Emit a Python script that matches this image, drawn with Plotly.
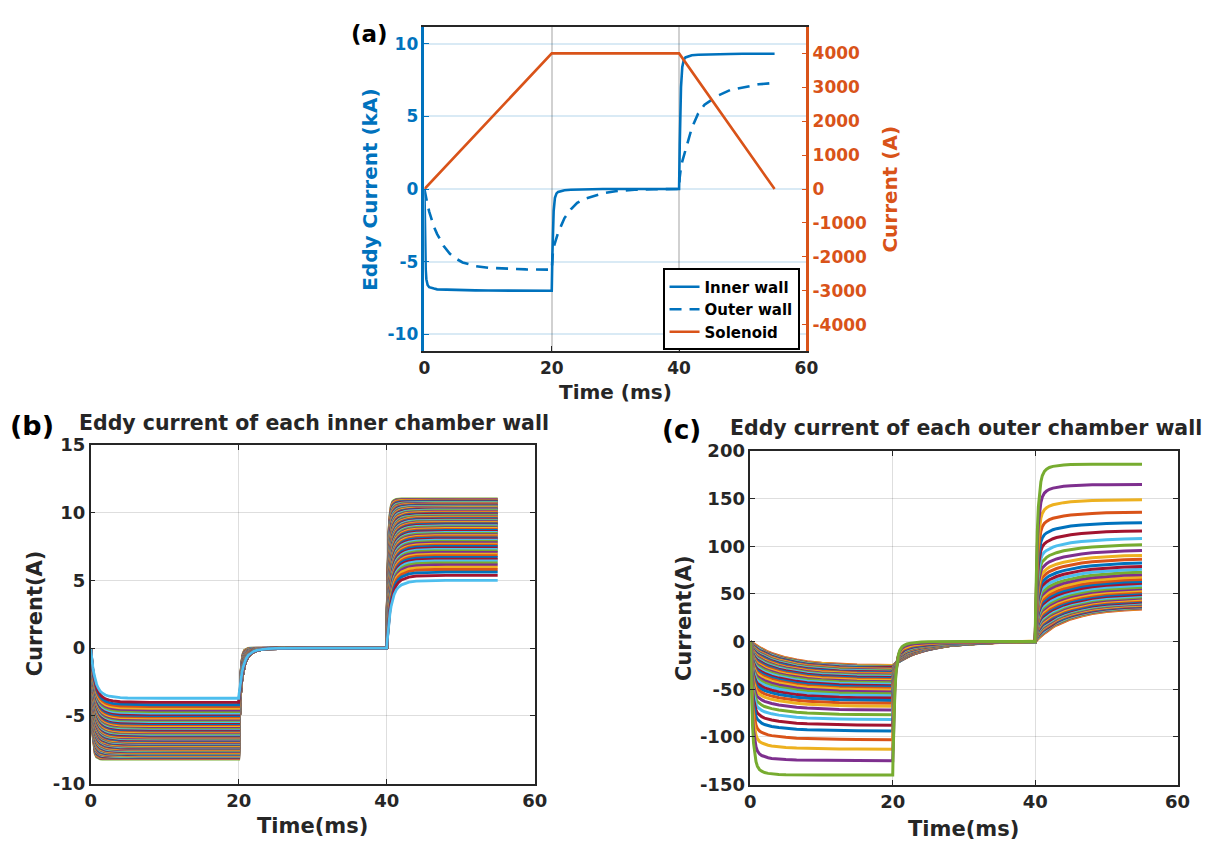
import plotly.graph_objects as go

W, H = 1228, 854
FONT = "DejaVu Sans"
TXT = "#262626"
BLUE = "#0072BD"
ORANGE = "#D95319"
MATLAB = ["#0072BD", "#D95319", "#EDB120", "#7E2F8E", "#77AC30", "#4DBEEE", "#A2142F"]

# ---------------- Panel (a): total eddy currents and solenoid current ----------------
T_A = [0, 0.1, 0.2, 0.3, 0.5, 0.75, 1, 1.5, 2, 3, 4, 5, 6, 8, 10, 13, 16, 20,
       20.1, 20.2, 20.3, 20.5, 20.75, 21, 21.5, 22, 23, 24, 25, 26, 28, 30, 33, 36, 40,
       40.1, 40.2, 40.3, 40.5, 40.75, 41, 41.5, 42, 43, 44, 45, 46, 48, 50, 52.5, 55]
INNER_WALL_KA = [0, -3.5, -5.5, -6.2, -6.6, -6.75, -6.8, -6.85, -6.9, -6.92, -6.94, -6.95, -6.96, -6.97, -6.98, -6.99, -7.0, -7.0,
                 -4.5, -2.5, -1.5, -0.6, -0.3, -0.2, -0.12, -0.08, -0.05, -0.03, -0.02, -0.01, 0, 0, 0, 0, 0,
                 3.0, 5.5, 7.0, 8.4, 8.9, 9.05, 9.15, 9.2, 9.23, 9.25, 9.27, 9.28, 9.29, 9.3, 9.3, 9.3]
OUTER_WALL_KA = [0, -0.25, -0.5, -0.7, -1.1, -1.55, -1.95, -2.6, -3.1, -3.9, -4.45, -4.8, -5.05, -5.3, -5.42, -5.5, -5.53, -5.55,
                 -4.6, -4.2, -4.0, -3.7, -3.35, -3.0, -2.5, -2.0, -1.4, -0.95, -0.7, -0.55, -0.3, -0.15, -0.05, -0.02, 0,
                 0.8, 1.2, 1.5, 1.9, 2.3, 2.7, 3.4, 4.2, 5.2, 5.8, 6.1, 6.4, 6.8, 7.0, 7.2, 7.3]
T_SOL = [0, 20, 40, 55]
SOLENOID_A = [0, 4000, 4000, 0]

# tick labels
TICKS_A_X = [0, 20, 40, 60]
TICKS_A_Y = [-10, -5, 0, 5, 10]
TICKS_A_Y2 = [-4000, -3000, -2000, -1000, 0, 1000, 2000, 3000, 4000]
TICKS_B_Y = [-10, -5, 0, 5, 10, 15]
TICKS_C_Y = [-150, -100, -50, 0, 50, 100, 150, 200]

# ---------------- Panels (b), (c): each wall element ----------------
# time offsets after each switching instant (ms) and read step-response fractions
DT = [0, 0.05, 0.1, 0.2, 0.3, 0.45, 0.6, 0.8, 1.0, 1.3, 1.6, 2.0, 2.5, 3.0, 4.0, 5.0, 6.5, 8.0, 10.0, 12.5, 15.0, 20.0]
FAST_B = [0, 0.22, 0.39, 0.63, 0.78, 0.89, 0.95, 0.98, 0.99, 0.997, 1, 1, 1, 1, 1, 1, 1, 1, 1, 1, 1, 1]
SLOW_B = [0, 0.08, 0.15, 0.28, 0.39, 0.52, 0.62, 0.72, 0.79, 0.86, 0.9, 0.935, 0.96, 0.975, 0.99, 0.995, 1, 1, 1, 1, 1, 1]
FAST_C = [0, 0.15, 0.28, 0.48, 0.62, 0.76, 0.84, 0.9, 0.935, 0.96, 0.972, 0.982, 0.988, 0.992, 0.996, 0.998, 1, 1, 1, 1, 1, 1]
SLOW_C = [0, 0.011, 0.022, 0.043, 0.064, 0.095, 0.125, 0.16, 0.2, 0.25, 0.29, 0.36, 0.43, 0.49, 0.59, 0.67, 0.76, 0.83, 0.89, 0.94, 0.965, 0.99]

# inner walls (A), smallest first: |plateau| during ramp-up, plateau after ramp-down
INNER_SEG1 = [3.70, 4.00, 4.18, 4.32, 4.45, 4.57, 4.68, 4.79, 4.89, 4.99, 5.08, 5.17, 5.26, 5.34, 5.42, 5.50,
              5.58, 5.65, 5.72, 5.79, 5.86, 5.93, 6.00, 6.06, 6.12, 6.18, 6.24, 6.30, 6.36, 6.42, 6.47, 6.52,
              6.57, 6.62, 6.67, 6.72, 6.77, 6.82, 6.87, 6.91, 6.95, 6.99, 7.03, 7.07, 7.11, 7.15, 7.19, 7.23,
              7.27, 7.31, 7.35, 7.39, 7.43, 7.47, 7.51, 7.55, 7.59, 7.62, 7.65, 7.68, 7.71, 7.74, 7.77, 7.80,
              7.83, 7.86, 7.89, 7.92, 7.95, 7.98, 8.01, 8.04, 8.07, 8.10, 8.13, 8.16, 8.20]
INNER_SEG3 = [5.00, 5.38, 5.62, 5.81, 5.99, 6.15, 6.29, 6.44, 6.58, 6.71, 6.83, 6.95, 7.07, 7.18, 7.29, 7.40,
              7.51, 7.60, 7.69, 7.79, 7.88, 7.98, 8.07, 8.15, 8.23, 8.31, 8.39, 8.47, 8.55, 8.63, 8.70, 8.77,
              8.84, 8.90, 8.97, 9.04, 9.11, 9.17, 9.24, 9.29, 9.35, 9.40, 9.46, 9.51, 9.56, 9.62, 9.67, 9.72,
              9.78, 9.83, 9.89, 9.94, 9.99, 10.05, 10.10, 10.15, 10.21, 10.25, 10.29, 10.33, 10.37, 10.41, 10.45, 10.49,
              10.53, 10.57, 10.61, 10.65, 10.69, 10.73, 10.77, 10.81, 10.85, 10.89, 10.93, 10.98, 11.03]

# outer walls (A), largest first
OUTER_SEG1 = [140, 125, 113, 103, 94, 88, 82, 77, 72, 68, 65, 62, 59.5, 57, 55, 53, 51, 49.5, 48, 46.5,
              45, 43.5, 42.3, 41.1, 40, 39, 38, 37, 36.2, 35.4, 34.6, 33.8, 33, 32.3, 31.6, 30.9, 30.3,
              29.7, 29.1, 28.5, 28, 27.5, 27, 26.5, 26, 25.5]
OUTER_SEG3 = [186, 165, 149, 136, 125, 116.5, 108.5, 102, 96, 91, 87, 83, 79.5, 76.5, 73.5, 71, 68.5, 66, 64, 62,
              60, 58, 56.3, 54.7, 53.2, 51.8, 50.4, 49, 47.8, 46.6, 45.5, 44.5, 43.5, 42.6, 41.8, 41, 40.3,
              39.6, 39, 38.4, 37.8, 37.3, 36.8, 36.3, 35.8, 35.3]


def wall_curve(p1, p3, fast, slow, w):
    prof = [w * f + (1 - w) * s for f, s in zip(fast, slow)]
    t, v = [], []
    for d, p in zip(DT, prof):
        t.append(d)
        v.append(-p1 * p)
    end = v[-1]
    for d, p in zip(DT[1:], prof[1:]):
        t.append(20 + d)
        v.append(end * (1 - p))
    for d, p in zip(DT[1:], prof[1:]):
        if d <= 15:
            t.append(40 + d)
            v.append(p3 * p)
    return t, v


fig = go.Figure()

# panel (a)
fig.add_trace(go.Scatter(x=T_A, y=INNER_WALL_KA, mode="lines", name="Inner wall",
                         line=dict(color=BLUE, width=2.6), xaxis="x", yaxis="y"))
fig.add_trace(go.Scatter(x=T_A, y=OUTER_WALL_KA, mode="lines", name="Outer wall",
                         line=dict(color=BLUE, width=2.6, dash="12px,8px"), xaxis="x", yaxis="y"))
fig.add_trace(go.Scatter(x=T_SOL, y=SOLENOID_A, mode="lines", name="Solenoid",
                         line=dict(color=ORANGE, width=2.6), xaxis="x", yaxis="y2"))

# panel (b): largest first, smallest (light blue) drawn last
NB = len(INNER_SEG1)
for r in reversed(range(NB)):
    w = r / (NB - 1)
    t, v = wall_curve(INNER_SEG1[r], INNER_SEG3[r], FAST_B, SLOW_B, w)
    fig.add_trace(go.Scatter(x=t, y=v, mode="lines", showlegend=False, hoverinfo="skip",
                             line=dict(color=MATLAB[(5 + r) % 7], width=2.8), xaxis="x3", yaxis="y3"))

# panel (c): smallest first, largest (green) drawn last
NC = len(OUTER_SEG1)
for r in reversed(range(NC)):
    w = 1 - r / (NC - 1)
    t, v = wall_curve(OUTER_SEG1[r], OUTER_SEG3[r], FAST_C, SLOW_C, w)
    fig.add_trace(go.Scatter(x=t, y=v, mode="lines", showlegend=False, hoverinfo="skip",
                             line=dict(color=MATLAB[(4 - r) % 7], width=3), xaxis="x4", yaxis="y4"))


def px(x):
    return x / W


def py(y):
    return 1 - y / H


def labels(vals):
    return [str(v) for v in vals]


tick17 = dict(family=FONT, size=17, color=TXT, weight="bold")
tick18 = dict(family=FONT, size=18, color=TXT, weight="bold")
common_box = dict(showline=True, linecolor=TXT, linewidth=1.5, mirror="ticks", ticks="inside",
                  ticklen=5, tickcolor=TXT, showgrid=True, gridcolor="rgba(0,0,0,0.13)", gridwidth=1,
                  zeroline=False, tickfont=tick18)

fig.update_layout(
    width=W, height=H, margin=dict(l=0, r=0, t=0, b=0),
    paper_bgcolor="white", plot_bgcolor="white",
    font=dict(family=FONT, color=TXT),
    hovermode=False,
    xaxis=dict(domain=[px(425), px(813)], anchor="y", range=[0, 60],
               tickvals=TICKS_A_X, ticktext=labels(TICKS_A_X),
               showline=True, linecolor=TXT, linewidth=2, mirror=True, ticks="inside", ticklen=5,
               tickcolor=TXT, showgrid=True, gridcolor="rgba(0,0,0,0.18)", gridwidth=2, zeroline=False,
               tickfont=tick17),
    yaxis=dict(domain=[py(349), py(16)], anchor="x", range=[-11.17, 11.17],
               tickvals=TICKS_A_Y, ticktext=labels(TICKS_A_Y),
               showline=True, linecolor=BLUE, linewidth=2.5, ticks="inside", ticklen=5, tickcolor=BLUE,
               showgrid=True, gridcolor="rgba(0,114,189,0.15)", gridwidth=2, zeroline=False,
               tickfont=dict(family=FONT, size=17, color=BLUE, weight="bold")),
    yaxis2=dict(anchor="x", overlaying="y", side="right", range=[-4790, 4790],
                tickvals=TICKS_A_Y2, ticktext=labels(TICKS_A_Y2),
                showline=True, linecolor=ORANGE, linewidth=2.5, ticks="inside", ticklen=5, tickcolor=ORANGE,
                showgrid=False, zeroline=False,
                tickfont=dict(family=FONT, size=17, color=ORANGE, weight="bold")),
    xaxis3=dict(domain=[px(86), px(537)], anchor="y3", range=[0, 60],
                tickvals=TICKS_A_X, ticktext=labels(TICKS_A_X), **common_box),
    yaxis3=dict(domain=[py(792), py(445)], anchor="x3", range=[-10, 15],
                tickvals=TICKS_B_Y, ticktext=labels(TICKS_B_Y), **common_box),
    xaxis4=dict(domain=[px(756), px(1190)], anchor="y4", range=[0, 60],
                tickvals=TICKS_A_X, ticktext=labels(TICKS_A_X), **common_box),
    yaxis4=dict(domain=[py(793), py(451)], anchor="x4", range=[-150, 200],
                tickvals=TICKS_C_Y, ticktext=labels(TICKS_C_Y), **common_box),
    legend=dict(x=px(806), xanchor="right", y=py(306), yanchor="middle", bgcolor="white",
                bordercolor="black", borderwidth=2, tracegroupgap=0,
                font=dict(family=FONT, size=15, color="black", weight="bold")),
)


def ann(text, x, y, size, color=TXT, angle=0):
    return dict(text=text, x=px(x), y=py(y), xref="paper", yref="paper", showarrow=False,
                xanchor="center", yanchor="middle", textangle=angle,
                font=dict(family=FONT, size=size, color=color, weight="bold"))


fig.update_layout(annotations=[
    ann("(a)", 369, 24, 23, "black"),
    ann("Time (ms)", 619, 391, 20),
    ann("Eddy Current (kA)", 369, 183, 20, BLUE, -90),
    ann("Current (A)", 897, 183, 20, ORANGE, -90),
    ann("(b)", 26, 425, 27, "black"),
    ann("Eddy current of each inner chamber wall", 313, 422, 20.5, TXT),
    ann("Time(ms)", 311, 836, 21),
    ann("Current(A)", 29, 618, 21, TXT, -90),
    ann("(c)", 686, 430, 26, "black"),
    ann("Eddy current of each outer chamber wall", 975, 427, 20.5, TXT),
    ann("Time(ms)", 973, 839, 21),
    ann("Current(A)", 688, 622, 21, TXT, -90),
])

fig.write_html("out.html")
